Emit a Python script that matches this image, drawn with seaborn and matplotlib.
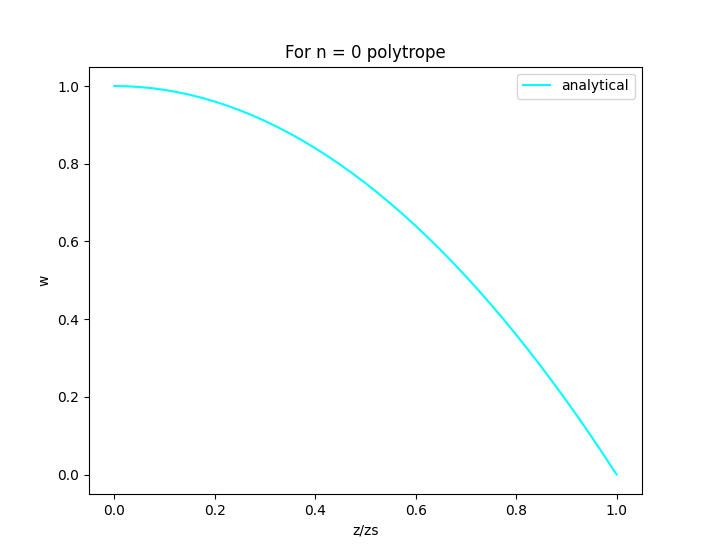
import matplotlib
matplotlib.use("Agg")
import matplotlib.pyplot as plt
import seaborn as sns
import pandas as pd

# Werte
z_rel = [0.0, 0.025, 0.05, 0.075, 0.1, 0.125, 0.15, 0.175, 0.2, 0.225, 0.25,
         0.275, 0.3, 0.325, 0.35, 0.375, 0.4, 0.425, 0.45, 0.475, 0.5,
         0.525, 0.55, 0.575, 0.6, 0.625, 0.65, 0.675, 0.7, 0.725, 0.75,
         0.775, 0.8, 0.825, 0.85, 0.875, 0.9, 0.925, 0.95, 0.975, 1.0]
w_vals = [1.0, 0.9994, 0.9975, 0.9944, 0.99, 0.9844, 0.9775, 0.9694, 0.96, 0.9494, 0.9375,
          0.9244, 0.91, 0.8944, 0.8775, 0.8594, 0.84, 0.8194, 0.7975, 0.7744, 0.75,
          0.7244, 0.6975, 0.6694, 0.64, 0.6094, 0.5775, 0.5444, 0.51, 0.4744, 0.4375,
          0.3994, 0.36, 0.3194, 0.2775, 0.2344, 0.19, 0.1444, 0.0975, 0.0494, 0.0]

df = pd.DataFrame({"z/zs": z_rel, "w": w_vals})

fig, ax = plt.subplots(figsize=(7.13, 5.55), dpi=100)
sns.lineplot(data=df, x="z/zs", y="w", color="cyan", label="analytical", ax=ax)
ax.set_title("For n = 0 polytrope")
ax.set_xlabel("z/zs")
ax.set_ylabel("w")
ax.legend(loc="upper right")
plt.savefig("out.png", dpi=100)
